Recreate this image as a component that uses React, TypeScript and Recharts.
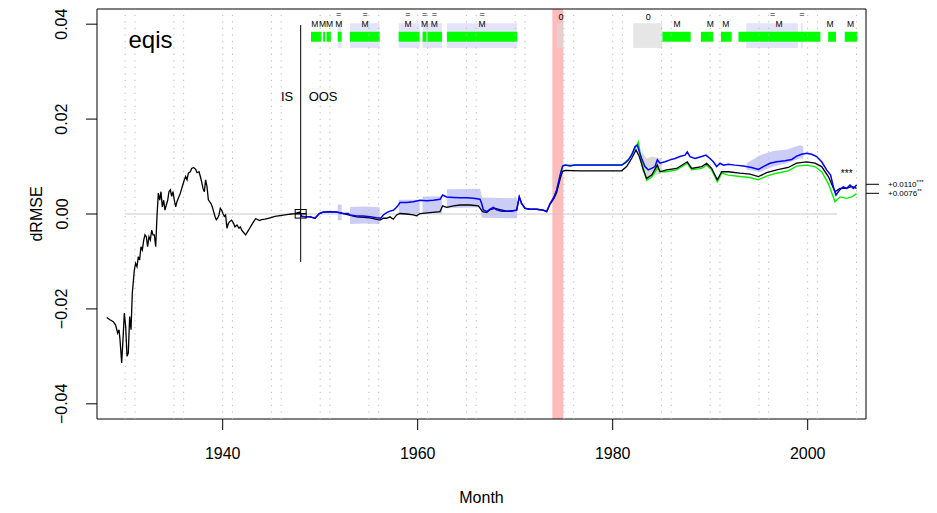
import React from "react";
import {
  ComposedChart,
  Line,
  Area,
  Scatter,
  XAxis,
  YAxis,
  ReferenceArea,
  ReferenceLine,
} from "recharts";

const FONT = "'Liberation Sans', Arial, Helvetica, sans-serif";

const X_DOMAIN: [number, number] = [1927.11, 2005.98];
const Y_DOMAIN: [number, number] = [-0.0432, 0.0432];

const xTicks = [1940, 1960, 1980, 2000];
const yTicks = [-0.04, -0.02, 0, 0.02, 0.04];
const yTickLabels = ["\u22120.04", "\u22120.02", "0.00", "0.02", "0.04"];

// final values shown on the right margin
const rightTicks = [0.00626, 0.00436];
const rightNums = ["+0.0110", "+0.0076"];
const rightStars = ["***", "**"];

// dotted vertical guides
const gridYears = [
  1930, 1931, 1935, 1936, 1940, 1941, 1945, 1946, 1950, 1951, 1955, 1956, 1960, 1961,
  1965, 1966, 1970, 1971, 1975, 1976, 1980, 1981, 1985, 1986, 1990, 1991, 1995, 1996,
  2000, 2001, 2005,
];

// black: in-sample + out-of-sample
const blackLine: [number, number][] = [
  [1928.1, -0.0218], [1928.44, -0.0223], [1928.78, -0.0227], [1929.02, -0.0234], [1929.23, -0.0251],
  [1929.37, -0.0244], [1929.47, -0.0265], [1929.64, -0.0314], [1929.81, -0.0251], [1929.91, -0.0209],
  [1930.05, -0.0237], [1930.19, -0.03], [1930.32, -0.0293], [1930.46, -0.0216], [1930.6, -0.0244],
  [1930.73, -0.0167], [1930.94, -0.0118], [1931.07, -0.0104], [1931.21, -0.0111], [1931.35, -0.009],
  [1931.48, -0.0097], [1931.62, -0.0069], [1931.76, -0.0076], [1931.9, -0.0055], [1932.03, -0.0044],
  [1932.17, -0.0048], [1932.3, -0.0069], [1932.44, -0.0048], [1932.58, -0.0055], [1932.72, -0.0034],
  [1932.85, -0.0044], [1932.99, -0.0044], [1933.13, -0.0069], [1933.26, -0.0006], [1933.4, 0.0044],
  [1933.54, 0.0029], [1933.67, 0.0047], [1933.81, 0.0015], [1933.95, 0.0029], [1934.08, 0.0008],
  [1934.22, 0.0019], [1934.36, 0.0029], [1934.49, 0.0047], [1934.63, 0.0051], [1934.77, 0.0037],
  [1934.9, 0.0047], [1935.04, 0.0029], [1935.18, 0.0015], [1935.31, 0.0026], [1935.45, 0.0033],
  [1935.66, 0.0044], [1935.86, 0.0058], [1936.07, 0.0072], [1936.2, 0.0079], [1936.34, 0.0072],
  [1936.48, 0.0086], [1936.68, 0.0089], [1936.82, 0.0096], [1937.02, 0.0098], [1937.23, 0.0094],
  [1937.37, 0.0087], [1937.57, 0.0089], [1937.71, 0.0079], [1937.84, 0.0068], [1937.98, 0.0054],
  [1938.12, 0.0047], [1938.25, 0.0072], [1938.39, 0.0058], [1938.53, 0.003], [1938.66, 0.0026],
  [1938.8, 0.0022], [1938.94, 0.0015], [1939.07, 0.0005], [1939.21, -0.0005], [1939.35, -0.0012],
  [1939.48, -0.0009], [1939.62, -0.0002], [1939.76, 0.0012], [1939.9, 0.0008], [1940.03, 0.0001],
  [1940.17, -0.0005], [1940.3, -0.0002], [1940.44, -0.003], [1940.58, -0.002], [1940.72, -0.0016],
  [1940.92, -0.0013], [1941.13, -0.002], [1941.26, -0.0027], [1941.47, -0.0023], [1941.67, -0.003],
  [1941.81, -0.0027], [1941.95, -0.0034], [1942.15, -0.0039], [1942.36, -0.0044], [1942.56, -0.0037],
  [1942.77, -0.003], [1942.97, -0.0023], [1943.18, -0.0016], [1943.38, -0.001], [1943.59, -0.0012],
  [1943.79, -0.0014], [1944.0, -0.0012], [1944.34, -0.0011], [1944.68, -0.0009], [1945.02, -0.0007],
  [1945.37, -0.0005], [1945.71, -0.0004], [1946.05, -0.0003], [1946.39, -0.0002], [1946.73, -0.0001],
  [1947.07, 0.0], [1947.42, 0.0001], [1947.69, 0.0003], [1947.95, 0.0004],
  [1948.1, -0.0005], [1948.95, -0.0006], [1949.47, -0.0009], [1949.91, 0.0001], [1950.32, 0.0004],
  [1951.01, 0.0005], [1951.69, 0.0004], [1952.37, 0.0001], [1952.89, -0.0002], [1953.74, -0.0006],
  [1955.11, -0.0008], [1956.13, -0.0013], [1956.48, -0.0009], [1956.82, -0.0009], [1957.16, -0.0006],
  [1957.5, -0.0011], [1957.84, -0.0002], [1958.19, 0.0001], [1958.87, 0.0], [1959.55, -0.0002],
  [1959.89, -0.0004], [1960.24, 0.0001], [1961.26, 0.0003], [1962.29, 0.0005], [1962.56, 0.0017],
  [1962.97, 0.0014], [1963.66, 0.0017], [1964.34, 0.0019], [1965.37, 0.0019], [1966.22, 0.0017],
  [1966.66, 0.0005], [1967.07, 0.0003], [1967.42, 0.0009], [1967.93, 0.0012], [1968.44, 0.0009],
  [1969.13, 0.0006], [1970.15, 0.0008], [1970.42, 0.0036], [1970.66, 0.0022], [1971.01, 0.0012],
  [1971.52, 0.001], [1972.2, 0.001], [1972.89, 0.0008], [1973.23, 0.0005], [1973.57, 0.002],
  [1973.98, 0.0033], [1974.25, 0.0045], [1974.66, 0.0078], [1974.87, 0.009], [1975.14, 0.0092],
  [1976.65, 0.0091], [1980.92, 0.0091], [1981.43, 0.01], [1981.94, 0.0117], [1982.39, 0.0135],
  [1982.73, 0.0121], [1983.14, 0.0093], [1983.48, 0.0075], [1984.0, 0.0082], [1984.58, 0.0103],
  [1984.85, 0.0089], [1985.53, 0.0093], [1986.56, 0.0096], [1987.65, 0.011], [1988.1, 0.0096],
  [1989.13, 0.01], [1989.64, 0.0107], [1990.15, 0.0096], [1990.73, 0.0072], [1991.18, 0.0089],
  [1991.86, 0.0089], [1993.06, 0.0086], [1994.08, 0.0084], [1994.94, 0.0079], [1995.79, 0.0087],
  [1996.82, 0.0093], [1998.01, 0.0098], [1998.87, 0.0107], [1999.89, 0.011], [2000.75, 0.0107],
  [2001.43, 0.01], [2002.12, 0.0079], [2002.8, 0.0047], [2003.31, 0.0054], [2004.0, 0.0054],
  [2004.51, 0.0058], [2005.02, 0.0054],
];

const blueLine: [number, number][] = [
  [1947.93, -0.0004], [1948.44, -0.0006], [1948.95, -0.0006], [1949.47, -0.0009], [1949.91, 0.0001],
  [1950.32, 0.0004], [1951.01, 0.0005], [1951.69, 0.0004], [1952.37, 0.0001], [1952.89, 0.0001],
  [1953.06, -0.0002], [1953.74, -0.0004], [1954.42, -0.0004], [1955.11, -0.0006], [1955.79, -0.0008],
  [1956.2, -0.0009], [1956.48, -0.0002], [1956.82, 0.0003], [1957.16, 0.0006], [1957.5, 0.0008],
  [1957.84, 0.0014], [1958.19, 0.0024], [1958.87, 0.0024], [1959.55, 0.0026], [1960.24, 0.0029],
  [1960.92, 0.0028], [1961.6, 0.0029], [1962.29, 0.0031], [1962.56, 0.004], [1962.97, 0.0036],
  [1963.66, 0.0035], [1964.34, 0.0034], [1965.02, 0.0034], [1965.71, 0.0033], [1966.39, 0.0031],
  [1966.56, 0.0022], [1966.73, 0.0009], [1967.07, 0.0005], [1967.42, 0.001], [1967.76, 0.0014],
  [1968.1, 0.0009], [1968.61, 0.0006], [1969.13, 0.0006], [1969.64, 0.0006], [1970.15, 0.0008],
  [1970.42, 0.0036], [1970.66, 0.0022], [1971.01, 0.0012], [1971.52, 0.001], [1972.2, 0.001],
  [1972.89, 0.0008], [1973.23, 0.0005], [1973.57, 0.0022], [1973.98, 0.0036], [1974.25, 0.005],
  [1974.66, 0.0086], [1974.87, 0.0101], [1975.14, 0.0103], [1975.62, 0.0101], [1976.13, 0.0103],
  [1978.7, 0.0103], [1980.92, 0.0103], [1981.26, 0.0107], [1981.6, 0.0114], [1981.94, 0.0124],
  [1982.29, 0.0142], [1982.53, 0.0145], [1982.73, 0.0131], [1982.97, 0.0117], [1983.31, 0.01],
  [1983.65, 0.0093], [1984.0, 0.0096], [1984.34, 0.01], [1984.58, 0.0114], [1984.85, 0.0107],
  [1985.36, 0.011], [1985.88, 0.0114], [1986.39, 0.0117], [1986.9, 0.0121], [1987.42, 0.0124],
  [1987.65, 0.0131], [1987.93, 0.0121], [1988.44, 0.0117], [1989.13, 0.0121], [1989.57, 0.0124],
  [1989.98, 0.0117], [1990.32, 0.011], [1990.66, 0.01], [1991.01, 0.0107], [1991.35, 0.0103],
  [1991.86, 0.0105], [1992.54, 0.0103], [1993.4, 0.0101], [1994.25, 0.0098], [1994.94, 0.0094],
  [1995.45, 0.01], [1996.13, 0.0107], [1996.82, 0.011], [1997.67, 0.0112], [1998.36, 0.0115],
  [1998.87, 0.0122], [1999.38, 0.0126], [1999.89, 0.0128], [2000.41, 0.0126], [2000.92, 0.0121],
  [2001.43, 0.011], [2001.94, 0.0093], [2002.35, 0.0082], [2002.63, 0.0057], [2002.9, 0.004],
  [2003.25, 0.005], [2003.65, 0.0057], [2004.0, 0.0054], [2004.34, 0.0061], [2004.68, 0.0054],
  [2005.02, 0.0061],
];

const greenLine: [number, number][] = [
  [1973.98, 0.0036], [1974.25, 0.005], [1974.66, 0.0086], [1974.87, 0.0102], [1975.14, 0.0103],
  [1980.92, 0.0103], [1981.6, 0.0114], [1982.29, 0.0138], [1982.63, 0.0152], [1982.97, 0.011],
  [1983.48, 0.0071], [1984.0, 0.0078], [1984.58, 0.0096], [1985.02, 0.0089], [1985.53, 0.0089],
  [1986.56, 0.0093], [1987.65, 0.0107], [1988.1, 0.0093], [1989.13, 0.0096], [1989.64, 0.0103],
  [1990.15, 0.0093], [1990.73, 0.0068], [1991.18, 0.0086], [1991.86, 0.0082], [1993.06, 0.0079],
  [1994.08, 0.0077], [1994.94, 0.0072], [1995.79, 0.008], [1996.82, 0.0086], [1998.01, 0.0091],
  [1998.87, 0.0101], [1999.89, 0.0103], [2000.75, 0.01], [2001.43, 0.0089], [2002.12, 0.0064],
  [2002.8, 0.0026], [2003.31, 0.0036], [2004.0, 0.0033], [2004.51, 0.0036], [2005.02, 0.0043],
];

// shaded bands: [year, low, high]
const blueBands: [number, number, number][][] = [
  [[1951.8, -0.0013, 0.002], [1952.2, -0.0013, 0.002]],
  [[1953.06, -0.0021, 0.0015], [1954.5, -0.002, 0.0016], [1956.1, -0.0021, 0.0014]],
  [[1958.05, -0.0002, 0.003], [1960.2, -0.0002, 0.003]],
  [[1960.5, 0.0001, 0.0037], [1962.5, 0.0001, 0.0037]],
  [[1963.0, 0.0012, 0.0052], [1966.4, 0.0014, 0.0053], [1966.6, -0.0008, 0.0035], [1970.2, -0.0009, 0.0033]],
  [[1993.74, 0.0093, 0.0107], [1995.11, 0.0089, 0.0124], [1996.48, 0.01, 0.0133], [1997.84, 0.0107, 0.0136], [1999.21, 0.0117, 0.0145], [1999.55, 0.0117, 0.0142]],
];
const grayBand: [number, number, number][] = [
  [1982.97, 0.0093, 0.0131], [1983.48, 0.0073, 0.0117], [1984.0, 0.0079, 0.0121], [1985.02, 0.0086, 0.0117],
];

// top strip periods
const greenBars: [number, number][] = [
  [1949.06, 1950.15], [1950.3, 1950.5], [1950.65, 1951.1], [1951.8, 1952.2], [1953.06, 1956.1],
  [1958.05, 1960.2], [1960.5, 1960.9], [1961.0, 1962.5], [1963.0, 1970.2], [1985.1, 1988.0],
  [1989.05, 1990.3], [1991.1, 1992.2], [1992.9, 2001.3], [2002.1, 2002.9], [2003.8, 2005.1],
];
const lavenderBlocks: [number, number][] = [
  [1951.8, 1952.2], [1953.06, 1956.1], [1958.05, 1960.2], [1960.5, 1962.5], [1963.0, 1970.2],
  [1993.7, 1999.0], [1999.3, 1999.5],
];
const grayBlocks: [number, number][] = [[1974.3, 1974.9], [1982.1, 1985.1]];
const recession: [number, number] = [1973.81, 1974.94];

const mYears = [1949.45, 1950.25, 1950.95, 1951.9, 1954.6, 1959.0, 1960.7, 1961.7, 1966.6, 1986.6, 1990.0, 1991.6, 1997.05, 2002.3, 2004.4];
const eqYears = [1951.9, 1954.6, 1959.0, 1960.7, 1961.7, 1966.6, 1996.4, 1999.4];
const zeroYears = [1974.7, 1983.65];

const toPts = (a: [number, number][]) => a.map(([x, v]) => ({ x, v }));
const toBand = (a: [number, number, number][]) => a.map(([x, lo, hi]) => ({ x, r: [lo, hi] }));

const textPts = [
  ...mYears.map((x) => ({ x, y: 0.0401, t: "M", fs: 8.5 })),
  ...eqYears.map((x) => ({ x, y: 0.0421, t: "=", fs: 9 })),
  ...zeroYears.map((x) => ({ x, y: 0.0415, t: "0", fs: 9 })),
  { x: 1932.6, y: 0.0368, t: "eqis", fs: 24 },
  { x: 1946.6, y: 0.0248, t: "IS", fs: 13 },
  { x: 1950.3, y: 0.0248, t: "OOS", fs: 13 },
  { x: 2004.0, y: 0.0085, t: "***", fs: 10 },
];
const startMarks = [{ x: 1948, y: 0.00048 }, { x: 1948, y: -0.0004 }];

const XTick = (props: any) => (
  <text x={props.x} y={props.y + 21} textAnchor="middle" dominantBaseline="central" fontSize={16} fontFamily={FONT} fill="#000">
    {props.payload.value}
  </text>
);

const YTick = (props: any) => {
  const i = yTicks.indexOf(props.payload.value);
  const cx = props.x - 22;
  return (
    <text x={cx} y={props.y} transform={`rotate(-90, ${cx}, ${props.y})`} textAnchor="middle" dominantBaseline="central" fontSize={16} fontFamily={FONT} fill="#000">
      {yTickLabels[i]}
    </text>
  );
};

const RightTick = (props: any) => {
  const i = rightTicks.indexOf(props.payload.value);
  return (
    <text x={props.x + 7} y={props.y} dominantBaseline="central" fontSize={8} fontFamily={FONT} fill="#000">
      {rightNums[i]}
      <tspan fontSize={6} dy={-2}>{rightStars[i]}</tspan>
    </text>
  );
};

const TextShape = (p: any) => (
  <text x={p.cx} y={p.cy} textAnchor="middle" dominantBaseline="central" fontSize={p.payload.fs} fontFamily={FONT} fill="#000">
    {p.payload.t}
  </text>
);

const BoxShape = (p: any) => <rect x={p.cx - 5.5} y={p.cy - 2.2} width={11} height={4.4} fill="none" stroke="#000" strokeWidth={1} />;

export default function App() {
  return (
    <div style={{ position: "absolute", left: 0, top: 0, background: "#fff" }}>
      <ComposedChart width={937} height={513} margin={{ top: 9, right: 0, bottom: 0, left: 0 }}>
        <XAxis
          type="number"
          dataKey="x"
          domain={X_DOMAIN}
          allowDataOverflow
          ticks={xTicks}
          interval={0}
          tick={<XTick />}
          tickSize={11}
          tickLine={{ stroke: "#000" }}
          axisLine={false}
          height={94}
          label={{
            content: ({ viewBox }: any) => (
              <text x={viewBox.x + viewBox.width / 2} y={viewBox.y + 78} textAnchor="middle" dominantBaseline="central" fontSize={16} fontFamily={FONT}>
                Month
              </text>
            ),
          }}
        />
        <YAxis
          type="number"
          domain={Y_DOMAIN}
          allowDataOverflow
          ticks={yTicks}
          interval={0}
          tick={<YTick />}
          tickSize={11}
          tickLine={{ stroke: "#000" }}
          axisLine={false}
          width={97}
          label={{
            content: ({ viewBox }: any) => (
              <text x={36} y={viewBox.y + viewBox.height / 2} transform={`rotate(-90, 36, ${viewBox.y + viewBox.height / 2})`} textAnchor="middle" dominantBaseline="central" fontSize={16} fontFamily={FONT}>
                dRMSE
              </text>
            ),
          }}
        />
        <YAxis
          yAxisId="r"
          orientation="right"
          type="number"
          domain={Y_DOMAIN}
          allowDataOverflow
          ticks={rightTicks}
          interval={0}
          tick={<RightTick />}
          tickSize={13}
          tickLine={{ stroke: "#000" }}
          axisLine={false}
          width={71}
        />

        {gridYears.map((g) => (
          <ReferenceLine key={"g" + g} x={g} stroke="#b8b8b8" strokeDasharray="1.2 5.3" />
        ))}
        <ReferenceArea x1={recession[0]} x2={recession[1]} fill="#ffbcbc" fillOpacity={1} stroke="none" />
        {lavenderBlocks.map(([a, b]) => (
          <ReferenceArea key={"l" + a} x1={a} x2={b} y1={0.035} y2={0.0402} fill="#e3e3fa" fillOpacity={1} stroke="none" />
        ))}
        {grayBlocks.map(([a, b]) => (
          <ReferenceArea key={"k" + a} x1={a} x2={b} y1={0.035} y2={0.0402} fill="#d9d9d9" fillOpacity={0.65} stroke="none" />
        ))}
        {greenBars.map(([a, b]) => (
          <ReferenceArea key={"b" + a} x1={a} x2={b} y1={0.0363} y2={0.0384} fill="#00ff00" fillOpacity={1} stroke="none" />
        ))}

        {blueBands.map((seg, i) => (
          <Area key={"band" + i} data={toBand(seg)} dataKey="r" type="linear" stroke="none" fill="#cbcdf6" fillOpacity={1} isAnimationActive={false} activeDot={false} />
        ))}
        <Area data={toBand(grayBand)} dataKey="r" type="linear" stroke="none" fill="#cfcfcf" fillOpacity={0.8} isAnimationActive={false} activeDot={false} />

        <ReferenceLine segment={[{ x: 1930, y: 0 }, { x: 2003, y: 0 }]} stroke="#c8c8c8" />
        <ReferenceLine segment={[{ x: 1948, y: 0.0398 }, { x: 1948, y: -0.0101 }]} stroke="#000" strokeWidth={1} />

        <Line data={toPts(greenLine)} dataKey="v" type="linear" stroke="#00ee00" strokeWidth={1.4} dot={false} activeDot={false} isAnimationActive={false} />
        <Line data={toPts(blackLine)} dataKey="v" type="linear" stroke="#000" strokeWidth={1.3} dot={false} activeDot={false} isAnimationActive={false} />
        <Line data={toPts(blueLine)} dataKey="v" type="linear" stroke="#0000ff" strokeWidth={1.5} dot={false} activeDot={false} isAnimationActive={false} />

        <Scatter data={startMarks} dataKey="y" shape={<BoxShape />} isAnimationActive={false} />
        <Scatter data={textPts} dataKey="y" shape={<TextShape />} isAnimationActive={false} />

        <ReferenceArea x1={X_DOMAIN[0]} x2={X_DOMAIN[1]} y1={Y_DOMAIN[0]} y2={Y_DOMAIN[1]} fill="none" stroke="#000" strokeWidth={1} />
      </ComposedChart>
    </div>
  );
}
